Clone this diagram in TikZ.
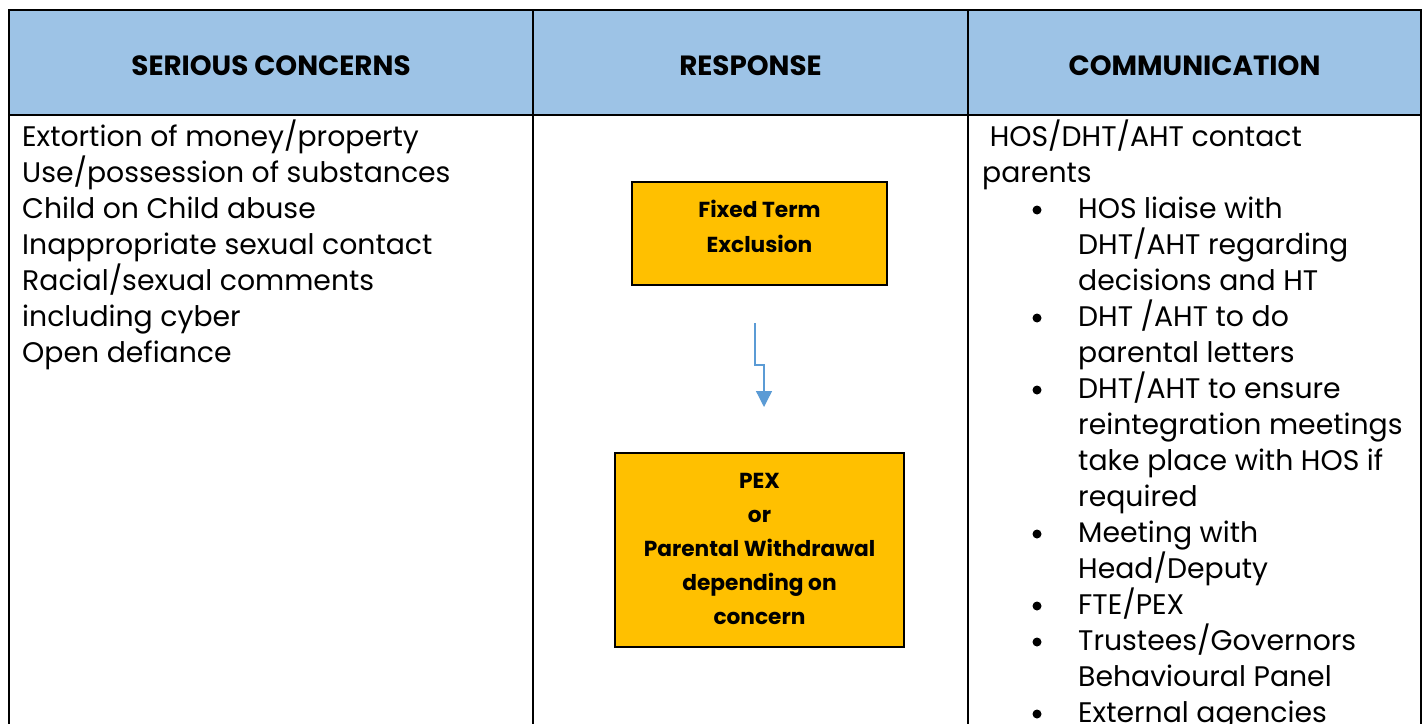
\documentclass[tikz,border=0pt]{standalone}
\usepackage{fontspec}
\setmainfont{Poppins}
\usetikzlibrary{arrows.meta}
\definecolor{hdr}{HTML}{9DC3E6}
\definecolor{amber}{HTML}{FFC000}
\definecolor{arr}{HTML}{5B9BD5}
\begin{document}
\begin{tikzpicture}[x=1pt,y=-1pt,
  grid/.style={line width=2pt,black},
  head/.style={anchor=base,inner sep=0pt,font=\fontsize{27.8}{32}\selectfont\bfseries},
  body/.style={anchor=base west,inner sep=0pt,font=\fontsize{28.3}{32}\selectfont},
  boxtxt/.style={anchor=base,inner sep=0pt,font=\fontsize{21.7}{26}\selectfont\bfseries},
  stepbox/.style={draw=black,line width=2pt,fill=amber,inner sep=0pt},
  bullet/.style={circle,fill=black,inner sep=0pt,minimum size=9pt}
]
\useasboundingbox (0,0) rectangle (1426,723);
% header fill and grid
\fill[hdr] (8.5,10) rectangle (1421,115);
\draw[grid] (8.5,730) -- (8.5,10) -- (1421,10) -- (1421,730);
\draw[grid] (8.5,115) -- (1421,115);
\draw[grid] (533,10) -- (533,730);
\draw[grid] (968,10) -- (968,730);
% headers
\node[head] (h1) at (271,75) {SERIOUS CONCERNS};
\node[head] (h2) at (750.5,75) {RESPONSE};
\node[head] (h3) at (1194.5,75) {COMMUNICATION};
% left column
\node[body] (l1) at (22,146) {Extortion of money/property};
\node[body] (l2) at (22,182) {Use/possession of substances};
\node[body] (l3) at (22,218) {Child on Child abuse};
\node[body] (l4) at (22,254) {Inappropriate sexual contact};
\node[body] (l5) at (22,290) {Racial/sexual comments};
\node[body] (l6) at (22,326) {including cyber};
\node[body] (l7) at (22,362) {Open defiance};
% response boxes
\node[stepbox,minimum width=255pt,minimum height=103pt] (fte) at (759.5,233.5) {};
\node[boxtxt] (f1) at (759.5,217) {Fixed Term};
\node[boxtxt] (f2) at (759.5,252) {Exclusion};
\node[stepbox,minimum width=289pt,minimum height=194pt] (pex) at (759.5,550) {};
\node[boxtxt] (p1) at (759.5,488) {PEX};
\node[boxtxt] (p2) at (759.5,522) {or};
\node[boxtxt] (p3) at (759.5,556) {Parental Withdrawal};
\node[boxtxt] (p4) at (759.5,590) {depending on};
\node[boxtxt] (p5) at (759.5,624) {concern};
% connector
\coordinate (a0) at (755,323);
\coordinate (a1) at (755,365);
\coordinate (a2) at (764,365);
\coordinate (a3) at (764,407);
\draw[arr,line width=1.3pt,-{Triangle[length=16pt,width=16pt]}] (a0) -- (a1) -- (a2) -- (a3);
% right column
\node[body] (r1) at (982,146) {\ HOS/DHT/AHT contact};
\node[body] (r2) at (982,182) {parents};
\node[bullet] (b1) at (1037,210) {};
\node[body] (r3) at (1078,218) {HOS liaise with};
\node[body] (r4) at (1078,254) {DHT/AHT regarding};
\node[body] (r5) at (1078,290) {decisions and HT};
\node[bullet] (b2) at (1037,318) {};
\node[body] (r6) at (1078,326) {DHT /AHT to do};
\node[body] (r7) at (1078,362) {parental letters};
\node[bullet] (b3) at (1037,390) {};
\node[body] (r8) at (1078,398) {DHT/AHT to ensure};
\node[body] (r9) at (1078,434) {reintegration meetings};
\node[body] (r10) at (1078,470) {take place with HOS if};
\node[body] (r11) at (1078,506) {required};
\node[bullet] (b4) at (1037,534) {};
\node[body] (r12) at (1078,542) {Meeting with};
\node[body] (r13) at (1078,578) {Head/Deputy};
\node[bullet] (b5) at (1037,606) {};
\node[body] (r14) at (1078,614) {FTE/PEX};
\node[bullet] (b6) at (1037,642) {};
\node[body] (r15) at (1078,650) {Trustees/Governors};
\node[body] (r16) at (1078,686) {Behavioural Panel};
\node[bullet] (b7) at (1037,714) {};
\node[body] (r17) at (1078,722) {External agencies};
\end{tikzpicture}
\end{document}
